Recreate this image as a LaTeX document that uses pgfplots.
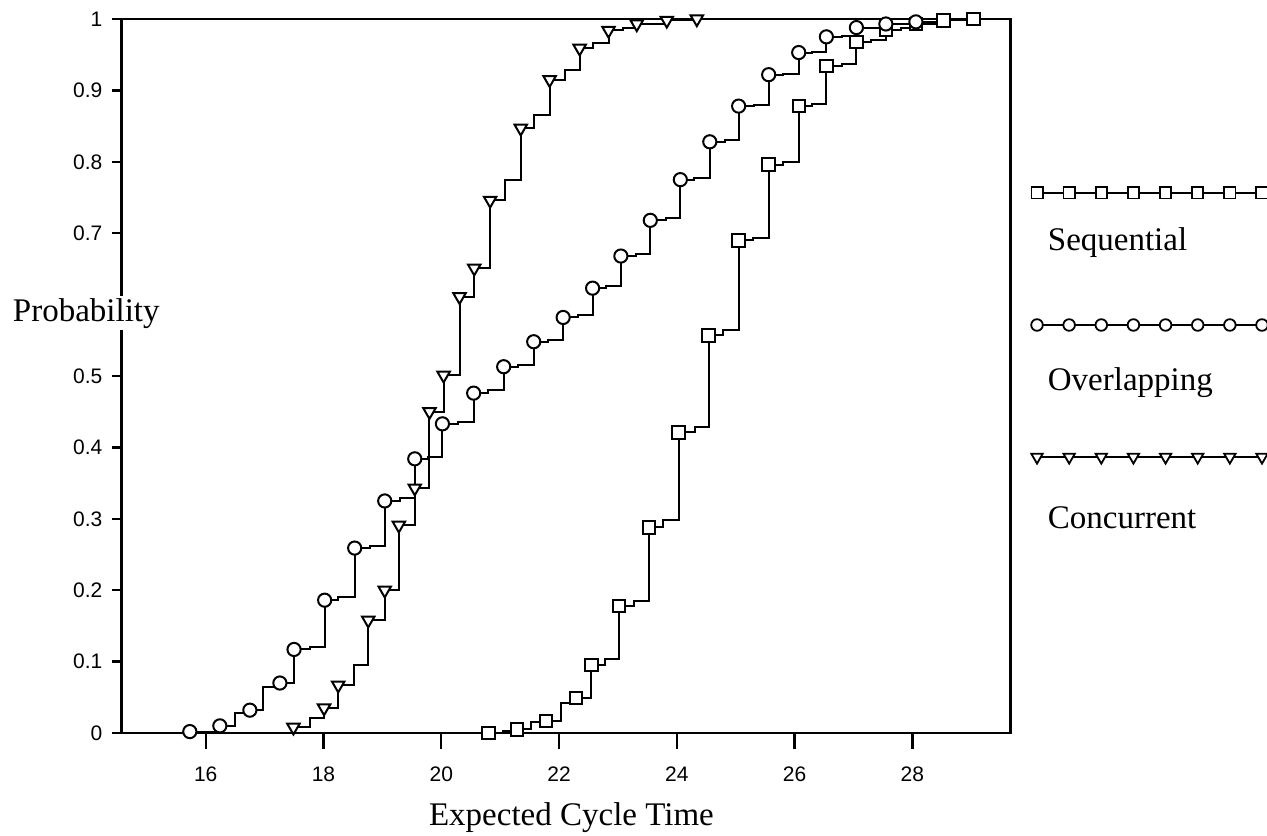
\documentclass[border=0pt]{standalone}
\usepackage{fontspec}
\setmainfont{Liberation Serif}
\newfontfamily\ticksans{Liberation Sans}
\usepackage{pgfplots}
\pgfplotsset{compat=1.18}
\usetikzlibrary{calc}

\begin{document}
\begin{tikzpicture}
\begin{axis}[
  name=ax,
  scale only axis,
  width=444.6pt, height=357pt,
  xmin=14.57, xmax=29.67,
  ymin=0, ymax=1,
  xtick={16,18,20,22,24,26,28},
  ytick={0,0.1,0.2,0.3,0.4,0.5,0.7,0.8,0.9,1},
  tick align=outside,
  tick pos=left,
  axis line style={line width=1.4pt},
  tick style={black, line width=1.2pt},
  xtick style={/pgfplots/major tick length=8pt},
  ytick style={/pgfplots/major tick length=4.5pt},
  ticklabel style={font=\ticksans\fontsize{10.5}{12}\selectfont},
  /pgf/number format/assume math mode=true,
  xticklabel shift=9pt,
  yticklabel shift=1.75pt,
  xlabel={Expected Cycle Time},
  ylabel={Probability},
  label style={font=\fontsize{16.5}{19}\selectfont},
  xlabel style={at={(axis description cs:0.506,0)}, anchor=center, yshift=-42.5pt},
  ylabel style={rotate=-90, at={(axis description cs:0,0.588)}, anchor=east,
                xshift=20.25pt, fill=white, inner sep=1pt},
  clip=false,
]
% Sequential
\addplot[const plot, black, line width=1pt] coordinates {
  (20.80,0.000) (21.04,0.003) (21.29,0.005) (21.53,0.015) (21.78,0.017)
  (22.03,0.042) (22.29,0.049) (22.55,0.095) (22.78,0.103) (23.02,0.178)
  (23.27,0.185) (23.53,0.288) (23.77,0.298) (24.03,0.421) (24.31,0.429)
  (24.54,0.557) (24.78,0.564) (25.05,0.690) (25.30,0.693) (25.56,0.796)
  (25.81,0.800) (26.07,0.878) (26.30,0.881) (26.54,0.934) (26.80,0.937)
  (27.05,0.968) (27.30,0.970) (27.55,0.985) (27.80,0.987) (28.06,0.993)
  (28.53,0.998) (29.04,1.000)
};
% Overlapping
\addplot[const plot, black, line width=1pt] coordinates {
  (15.73,0.002) (16.24,0.010) (16.49,0.028) (16.75,0.032) (16.97,0.064)
  (17.26,0.070) (17.50,0.117) (17.77,0.121) (18.02,0.186) (18.25,0.191)
  (18.53,0.259) (18.79,0.262) (19.04,0.325) (19.30,0.329) (19.55,0.384)
  (19.78,0.386) (20.02,0.433) (20.29,0.435) (20.55,0.476) (20.80,0.481)
  (21.06,0.513) (21.31,0.516) (21.57,0.548) (21.82,0.551) (22.07,0.582)
  (22.33,0.586) (22.57,0.623) (22.80,0.626) (23.05,0.668) (23.30,0.671)
  (23.55,0.718) (23.81,0.721) (24.06,0.775) (24.30,0.777) (24.56,0.828)
  (24.81,0.831) (25.05,0.878) (25.31,0.880) (25.56,0.922) (25.81,0.923)
  (26.07,0.953) (26.30,0.954) (26.54,0.975) (26.81,0.976) (27.05,0.988)
  (27.55,0.993) (28.06,0.996) (28.53,1.000) (29.04,1.000)
};
% Concurrent
\addplot[const plot, black, line width=1pt] coordinates {
  (17.26,0.000) (17.49,0.008) (17.77,0.021) (18.01,0.035) (18.25,0.067)
  (18.51,0.095) (18.76,0.158) (19.04,0.200) (19.28,0.291) (19.55,0.343)
  (19.80,0.450) (20.04,0.501) (20.31,0.611) (20.56,0.651) (20.83,0.746)
  (21.08,0.775) (21.35,0.847) (21.58,0.866) (21.84,0.915) (22.10,0.928)
  (22.35,0.959) (22.58,0.966) (22.84,0.984) (23.08,0.987) (23.32,0.993)
  (23.83,0.998) (24.34,1.000)
};
% markers
\addplot[only marks, mark=square*, mark size=3.1pt,
  mark options={fill=white, draw=black, line width=1pt}] coordinates {
  (20.80,0.000) (21.29,0.005) (21.78,0.017) (22.29,0.049) (22.55,0.095)
  (23.02,0.178) (23.53,0.288) (24.03,0.421) (24.54,0.557) (25.05,0.690)
  (25.56,0.796) (26.07,0.878) (26.54,0.934) (27.05,0.968) (27.55,0.985)
  (28.06,0.993) (28.53,0.998) (29.04,1.000)
};
\addplot[only marks, mark=*, mark size=3.3pt,
  mark options={fill=white, draw=black, line width=1pt}] coordinates {
  (15.73,0.002) (16.24,0.010) (16.75,0.032) (17.26,0.070) (17.50,0.117)
  (18.02,0.186) (18.53,0.259) (19.04,0.325) (19.55,0.384) (20.02,0.433)
  (20.55,0.476) (21.06,0.513) (21.57,0.548) (22.07,0.582) (22.57,0.623)
  (23.05,0.668) (23.55,0.718) (24.06,0.775) (24.56,0.828) (25.05,0.878)
  (25.56,0.922) (26.07,0.953) (26.54,0.975) (27.05,0.988) (27.55,0.993)
  (28.06,0.996)
};
\addplot[only marks, mark=triangle*, mark size=3.6pt,
  mark options={rotate=180, fill=white, draw=black, line width=1pt}] coordinates {
  (17.49,0.008) (18.01,0.035) (18.25,0.067) (18.76,0.158) (19.04,0.200)
  (19.28,0.291) (19.55,0.343) (19.80,0.450) (20.04,0.501) (20.31,0.611)
  (20.56,0.651) (20.83,0.746) (21.35,0.847) (21.84,0.915) (22.35,0.959)
  (22.84,0.984) (23.32,0.993) (23.83,0.998) (24.34,1.000)
};
\end{axis}

% legend to the right of the axis
\begin{scope}[shift={(ax.north east)}, line width=0.9pt,
  every node/.style={font=\fontsize{16.5}{19}\selectfont, anchor=west, inner sep=0pt}]
  \draw (13.15pt,-87pt) -- (125.64pt,-87pt);
  \draw plot[only marks, mark=square*, mark size=2.8pt, mark options={fill=white}] coordinates {
    (13.15pt,-87pt) (29.22pt,-87pt) (45.29pt,-87pt) (61.36pt,-87pt)
    (77.43pt,-87pt) (93.50pt,-87pt) (109.57pt,-87pt) (125.64pt,-87pt)};
  \node at (18.15pt,-112pt) {Sequential};
  \draw (13.15pt,-153pt) -- (125.64pt,-153pt);
  \draw plot[only marks, mark=*, mark size=2.9pt, mark options={fill=white}] coordinates {
    (13.15pt,-153pt) (29.22pt,-153pt) (45.29pt,-153pt) (61.36pt,-153pt)
    (77.43pt,-153pt) (93.50pt,-153pt) (109.57pt,-153pt) (125.64pt,-153pt)};
  \node at (18.15pt,-182pt) {Overlapping};
  \draw (13.15pt,-219pt) -- (125.64pt,-219pt);
  \draw plot[only marks, mark=triangle*, mark size=3.3pt, mark options={rotate=180, fill=white}] coordinates {
    (13.15pt,-219pt) (29.22pt,-219pt) (45.29pt,-219pt) (61.36pt,-219pt)
    (77.43pt,-219pt) (93.50pt,-219pt) (109.57pt,-219pt) (125.64pt,-219pt)};
  \node at (18.15pt,-249.5pt) {Concurrent};
\end{scope}

\pgfresetboundingbox
\path[use as bounding box] ($(ax.south west)+(-60.75pt,-51pt)$) rectangle ($(ax.north east)+(128.15pt,9.5pt)$);
\end{tikzpicture}
\end{document}
